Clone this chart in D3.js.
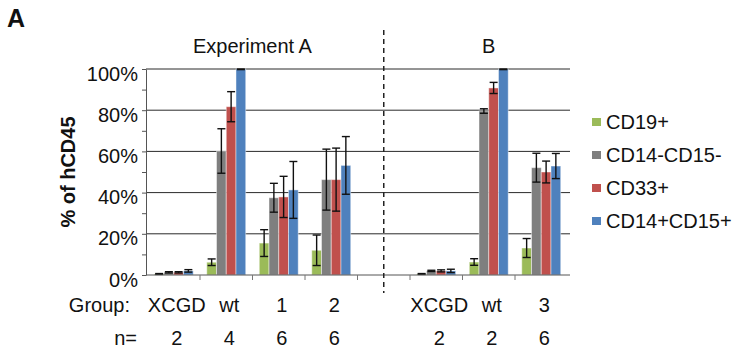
<!DOCTYPE html>
<html>
<head>
<meta charset="utf-8">
<script src="https://cdn.jsdelivr.net/npm/d3@7"></script>
<style>
  body { margin: 0; background: #fff; }
  svg { display: block; font-family: "Liberation Sans", Arial, sans-serif; }
</style>
</head>
<body>
<div id="chart"></div>
<script>
// Data
const slots = ["A-XCGD", "A-wt", "A-1", "A-2", "gap", "B-XCGD", "B-wt", "B-3"];
const groupLabels = ["XCGD", "wt", "1", "2", "", "XCGD", "wt", "3"];
const nLabels = ["2", "4", "6", "6", "", "2", "2", "6"];
const seriesNames = ["CD19+", "CD14-CD15-", "CD33+", "CD14+CD15+"];
const seriesColors = ["#9bbb59", "#7f7f7f", "#c0504d", "#4f81bd"];

const cd19 = [0.5, 6.2, 15.5, 12, null, 0.5, 6.3, 13.1];
const cd19Err = [0.2, 1.6, 6.5, 7.4, null, 0.2, 1.6, 4.6];
const cd14neg = [1.3, 60.2, 37.5, 46.3, null, 2, 79.6, 52.1];
const cd14negErr = [0.3, 10.8, 7, 14.8, null, 0.3, 1.1, 7];
const cd33 = [1.3, 81.7, 37.9, 46.3, null, 2, 90.8, 50];
const cd33Err = [0.3, 7.3, 10, 15.3, null, 0.5, 2.7, 5.3];
const cd14pos = [2, 100, 41.3, 53.2, null, 2, 100, 52.9];
const cd14posErr = [0.6, 0.3, 13.8, 14, null, 0.8, 0.3, 6.1];

const yTicks = [0, 10, 20, 30, 40, 50, 60, 70, 80, 90, 100];
const yLabelTicks = [0, 20, 40, 60, 80, 100];

const values = [cd19, cd14neg, cd33, cd14pos];
const errors = [cd19Err, cd14negErr, cd33Err, cd14posErr];

// Layout
const width = 737, height = 352;
const plotLeft = 147.5, plotRight = 567.5, plotTop = 69, plotBottom = 275;

const svg = d3.select("#chart").append("svg")
  .attr("width", width)
  .attr("height", height);

const x = d3.scaleBand().domain(slots).range([plotLeft, plotRight]);
const xs = d3.scaleBand().domain(seriesNames)
  .range([x.bandwidth() * 0.129, x.bandwidth() * 0.871]);
const y = d3.scaleLinear().domain([0, 100]).range([plotBottom, plotTop]);

// gridlines (20% steps)
svg.append("g").selectAll("line").data(yLabelTicks.slice(1)).join("line")
  .attr("x1", plotLeft - 1.5).attr("x2", 570)
  .attr("y1", d => y(d)).attr("y2", d => y(d))
  .attr("stroke", "#2a2a2a").attr("stroke-width", 1);

// bars
const rows = [];
seriesNames.forEach((s, si) => {
  slots.forEach((slot, i) => {
    if (values[si][i] == null) return;
    rows.push({ series: s, si, slot, v: values[si][i], e: errors[si][i] });
  });
});

svg.append("g").selectAll("rect").data(rows).join("rect")
  .attr("x", d => x(d.slot) + xs(d.series))
  .attr("y", d => y(d.v))
  .attr("width", xs.bandwidth())
  .attr("height", d => y(0) - y(d.v))
  .attr("fill", d => seriesColors[d.si])
  .attr("stroke", "rgba(255,255,255,0.45)")
  .attr("stroke-width", 1);

// error bars
const eb = svg.append("g").attr("stroke", "#111").attr("stroke-width", 1.4);
const cx = d => x(d.slot) + xs(d.series) + xs.bandwidth() / 2;
const cap = 4;
eb.selectAll("line.v").data(rows).join("line").attr("class", "v")
  .attr("x1", cx).attr("x2", cx)
  .attr("y1", d => y(Math.min(100, d.v + d.e))).attr("y2", d => y(d.v - d.e));
eb.selectAll("line.t").data(rows).join("line").attr("class", "t")
  .attr("x1", d => cx(d) - cap).attr("x2", d => cx(d) + cap)
  .attr("y1", d => y(Math.min(100, d.v + d.e))).attr("y2", d => y(Math.min(100, d.v + d.e)));
eb.selectAll("line.b").data(rows).join("line").attr("class", "b")
  .attr("x1", d => cx(d) - cap).attr("x2", d => cx(d) + cap)
  .attr("y1", d => y(d.v - d.e)).attr("y2", d => y(d.v - d.e));

// y axis
const yAxis = svg.append("g")
  .attr("transform", `translate(${plotLeft - 1.5},0)`)
  .call(d3.axisLeft(y).tickValues(yTicks).tickSize(4).tickSizeOuter(0)
    .tickFormat(d => yLabelTicks.includes(d) ? d + "%" : ""));
yAxis.select(".domain").attr("stroke", "#555");
yAxis.selectAll(".tick line").attr("stroke", "#555");
yAxis.selectAll(".tick text")
  .attr("x", -8).attr("dy", "0.55em")
  .attr("font-size", 20).attr("fill", "#111")
  .attr("font-family", "Liberation Sans, Arial, sans-serif");

// x axis
svg.append("line")
  .attr("x1", plotLeft - 1.5).attr("x2", 570)
  .attr("y1", plotBottom).attr("y2", plotBottom)
  .attr("stroke", "#555");
svg.append("g").selectAll("line").data(slots.slice(1)).join("line")
  .attr("x1", d => x(d)).attr("x2", d => x(d))
  .attr("y1", plotBottom).attr("y2", plotBottom + 5)
  .attr("stroke", "#777");

// group / n labels
const labelShift = 3;
svg.append("g").selectAll("text").data(slots).join("text")
  .attr("x", d => x(d) + x.bandwidth() / 2 + labelShift)
  .attr("y", 312)
  .attr("text-anchor", "middle")
  .attr("font-size", 20).attr("fill", "#111")
  .text((d, i) => groupLabels[i]);
svg.append("g").selectAll("text").data(slots).join("text")
  .attr("x", d => x(d) + x.bandwidth() / 2 + labelShift)
  .attr("y", 345)
  .attr("text-anchor", "middle")
  .attr("font-size", 20).attr("fill", "#111")
  .text((d, i) => nLabels[i]);
svg.append("text").attr("x", 130).attr("y", 312)
  .attr("text-anchor", "end").attr("font-size", 20).attr("fill", "#111")
  .text("Group:");
svg.append("text").attr("x", 137).attr("y", 345)
  .attr("text-anchor", "end").attr("font-size", 20).attr("fill", "#111")
  .text("n=");

// experiment headers
svg.append("text").attr("x", (x("A-XCGD") + x("A-2") + x.bandwidth()) / 2).attr("y", 53)
  .attr("text-anchor", "middle").attr("font-size", 20).attr("fill", "#111")
  .text("Experiment A");
svg.append("text").attr("x", x("B-wt") + x.bandwidth() / 2).attr("y", 53)
  .attr("text-anchor", "middle").attr("font-size", 20).attr("fill", "#111")
  .text("B");

// divider
svg.append("line")
  .attr("x1", x("gap") + x.bandwidth() / 2).attr("x2", x("gap") + x.bandwidth() / 2)
  .attr("y1", 30).attr("y2", 293)
  .attr("stroke", "#222").attr("stroke-width", 1.5)
  .attr("stroke-dasharray", "5,4");

// y title
svg.append("text")
  .attr("transform", `translate(75,${(plotTop + plotBottom) / 2}) rotate(-90)`)
  .attr("text-anchor", "middle")
  .attr("font-size", 20).attr("font-weight", "bold").attr("fill", "#111")
  .text("% of hCD45");

// panel letter
svg.append("text").attr("x", 7).attr("y", 27)
  .attr("font-size", 25).attr("font-weight", "bold").attr("fill", "#111")
  .text("A");

// legend
const legend = svg.append("g").selectAll("g").data(seriesNames).join("g")
  .attr("transform", (d, i) => `translate(592,${122 + i * 33})`);
legend.append("rect")
  .attr("x", 0).attr("y", -4).attr("width", 9).attr("height", 8)
  .attr("fill", (d, i) => seriesColors[i]);
legend.append("text")
  .attr("x", 14).attr("y", 7)
  .attr("font-size", 20).attr("fill", "#111")
  .text(d => d);
</script>
</body>
</html>
